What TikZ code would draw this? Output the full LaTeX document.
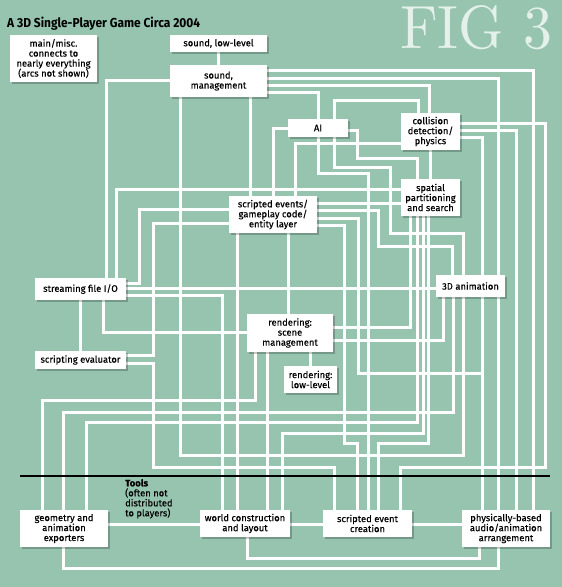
\documentclass[tikz,border=0pt]{standalone}
\usepackage{fontspec}
\usepackage{graphicx}
\newfontfamily\sansf[FakeBold=0.3]{Fira Sans}
\newfontfamily\titlef{Fira Sans}
\usetikzlibrary{shadows}
\definecolor{bgc}{RGB}{150,196,175}
\definecolor{figc}{RGB}{228,240,234}
\pgfdeclarelayer{back}
\pgfdeclarelayer{wires}
\pgfsetlayers{back,wires,main}
\begin{document}
\begin{tikzpicture}[x=1pt,y=-1pt,
  box/.style={fill=white, inner sep=0pt, align=center,
    font=\sansf\fontsize{9.4}{10}\selectfont,
    drop shadow={shadow xshift=1.5pt, shadow yshift=-1.5pt, opacity=0.22, fill=black}},
  wire/.style={draw=white, line width=3pt},
  divider/.style={draw=black, line width=1.3pt}]
\useasboundingbox (0,0) rectangle (562,587);
\begin{pgfonlayer}{back}
\fill[bgc] (0,0) rectangle (562,587);
\end{pgfonlayer}

% titles
\node[anchor=base west, inner sep=0pt] (title) at (7,27.5)
  {\resizebox{193pt}{10.5pt}{\titlef\bfseries A 3D Single-Player Game Circa 2004}};
\node[anchor=base west, inner sep=0pt, text=figc] (fig) at (400,48)
  {\resizebox{152pt}{43pt}{FIG 3}};

% boxes
\node[box, minimum width=87pt, minimum height=47pt] (main) at (53.5,58.5) {main/misc.\\connects to\\nearly everything\\(arcs not shown)};
\node[box, minimum width=97pt, minimum height=17pt] (sndl) at (218.5,43.5) {sound, low-level};
\node[box, minimum width=97pt, minimum height=32pt] (sndm) at (218.5,81) {sound,\\management};
\node[box, minimum width=60pt, minimum height=18pt] (ai) at (318,128) {AI};
\node[box, minimum width=59pt, minimum height=37pt] (coll) at (430.5,131.5) {collision\\detection/\\physics};
\node[box, minimum width=59pt, minimum height=37pt] (spat) at (430.5,197.5) {spatial\\partitioning\\and search};
\node[box, minimum width=88pt, minimum height=37pt] (scr) at (273,214.5) {scripted events/\\gameplay code/\\entity layer};
\node[box, minimum width=69pt, minimum height=22pt] (anim) at (470.5,286) {3D animation};
\node[box, minimum width=91pt, minimum height=22pt] (sfio) at (80.5,289) {streaming file I/O};
\node[box, minimum width=91pt, minimum height=18pt] (seval) at (80.5,360) {scripting evaluator};
\node[box, minimum width=86pt, minimum height=38pt] (rsm) at (290,333) {rendering:\\scene\\management};
\node[box, minimum width=53pt, minimum height=27pt] (rll) at (310.5,379.5) {rendering:\\low-level};
\node[box, minimum width=88pt, minimum height=37pt] (geo) at (64,528.5) {geometry and\\animation\\exporters};
\node[box, minimum width=90pt, minimum height=27pt] (world) at (245,523.5) {world construction\\and layout};
\node[box, minimum width=89pt, minimum height=27pt] (sec) at (367.5,523.5) {scripted event\\creation};
\node[box, minimum width=88pt, minimum height=37pt] (phys) at (506,528.5) {physically-based\\audio/animation\\arrangement};

\node[anchor=north west, align=left, inner sep=0pt, font=\sansf\fontsize{9.4}{10}\selectfont] (tools) at (125,479)
  {\textbf{Tools}\\(often not\\distributed\\to players)};

\coordinate (divL) at (20,476);
\coordinate (divR) at (550,476);
\draw[divider] (divL) -- (divR);

\begin{pgfonlayer}{wires}
\draw[wire] (sndl.south) -- (sndm.north);
\draw[wire] (sndm.west |- 0,80) -| (sfio.north -| 106,0);
\draw[wire] (sndm.east |- 0,70) -| (phys.north -| 533,0);
\draw[wire] (sndm.east |- 0,78) -| (anim.north -| 498,0);
\draw[wire] (sndm.east |- 0,85) -| (coll.north -| 429,0);
\draw[wire] (sndm.east |- 0,92) -| (ai.north -| 318,0);
\draw[wire] (sndm.south -| 180,0) |- (463,455) -- (anim.south -| 463,0);
\draw[wire] (sndm.south -| 250,0) -- (scr.north -| 250,0);
\draw[wire] (coll.north -| 418,0) |- (334,100) -- (ai.north -| 334,0);
\draw[wire] (ai.west |- 0,128) -| (scr.north -| 273,0);
\draw[wire] (ai.east |- 0,130) -| (357,158) -| (spat.north -| 417,0);
\draw[wire] (ai.south -| 334,0) |- (390,167) |- (463,233) -- (anim.north -| 463,0);
\draw[wire] (ai.south -| 318,0) |- (368,173) -- (sec.north -| 368,0);
\draw[wire] (coll.west |- 0,143) -| (scr.north -| 295,0);
\draw[wire] (coll.south -| 430,0) -- (spat.north -| 430,0);
\draw[wire] (coll.east |- 0,123) -| (545,467) -| (sec.north -| 400,0);
\draw[wire] (coll.east |- 0,130) -| (phys.north -| 516,0);
\draw[wire] (coll.east |- 0,137) -| (anim.north -| 482,0);
\draw[wire] (anim.south -| 482,0) -- (phys.north -| 482,0);
\draw[wire] (anim.south -| 498,0) -- (phys.north -| 498,0);
\draw[wire] (anim.south -| 453,0) |- (63,412) -- (geo.north -| 63,0);
\draw[wire] (anim.south -| 443,0) |- (rsm.east |- 0,340);
\draw[wire] (anim.west |- 0,288) -- (sfio.east |- 0,288);
\draw[wire] (spat.south -| 410,0) |- (rsm.east |- 0,327);
\draw[wire] (spat.south -| 417,0) |- (86,422) -- (geo.north -| 86,0);
\draw[wire] (spat.south -| 423,0) |- (282,433) -- (world.north -| 282,0);
\draw[wire] (spat.south -| 428,0) |- (378,443) -- (sec.north -| 378,0);
\draw[wire] (spat.west |- 0,189) -| (sfio.north -| 116,0);
\draw[wire] (scr.east |- 0,203) -- (spat.west |- 0,203);
\draw[wire] (scr.east |- 0,210) -| (378,246) -| (anim.north -| 452,0);
\draw[wire] (scr.east |- 0,218) -| (358,373) -| (phys.north -| 482,0);
\draw[wire] (scr.east |- 0,225) -| (344,443) -| (sec.north -| 357,0);
\draw[wire] (scr.west |- 0,209) -| (139,283) -- (sfio.east |- 0,283);
\draw[wire] (scr.west |- 0,223) -| (153,355) -- (seval.east |- 0,355);
\draw[wire] (scr.south -| 237,0) -- (world.north -| 237,0);
\draw[wire] (scr.south -| 288,0) -- (rsm.north -| 288,0);
\draw[wire] (sfio.east |- 0,295) -| (world.north -| 222,0);
\draw[wire] (sfio.south -| 80,0) -- (seval.north -| 80,0);
\draw[wire] (sfio.south -| 103,0) |- (rsm.west |- 0,332);
\draw[wire] (seval.east |- 0,363) -| (153,467) -| (sec.north -| 334,0);
\draw[wire] (rsm.south -| 255,0) |- (42,400) -- (geo.north -| 42,0);
\draw[wire] (rsm.south -| 267,0) -- (world.north -| 267,0);
\draw[wire] (rsm.south -| 310,0) -- (rll.north -| 310,0);
\draw[wire] (geo.east |- 0,524) -- (world.west |- 0,524);
\draw[wire] (world.east |- 0,524) -- (sec.west |- 0,524);
\draw[wire] (sec.east |- 0,524) -- (phys.west |- 0,524);
\draw[wire] (world.south -| 247,0) |- (479,558) -- (phys.south -| 479,0);
\draw[wire] (geo.south -| 63,0) |- (498,568) -- (phys.south -| 498,0);
\end{pgfonlayer}
\end{tikzpicture}
\end{document}
